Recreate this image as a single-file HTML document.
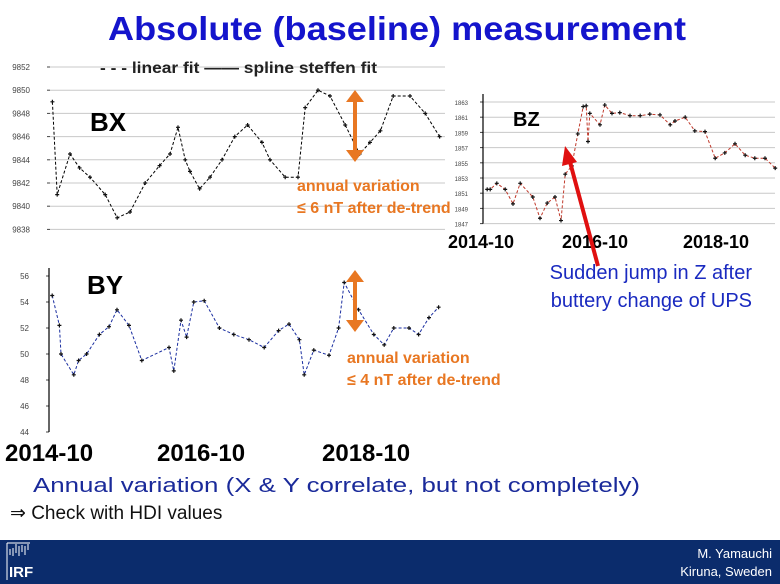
<!DOCTYPE html>
<html><head><meta charset="utf-8"><style>
html,body{margin:0;padding:0;background:#fff;}
svg{display:block;font-family:"Liberation Sans",sans-serif;}
</style></head><body>
<svg id="s" width="780" height="584" viewBox="0 0 780 584">
<text x="397" y="40" text-anchor="middle" font-size="33" font-weight="bold" fill="#1414cc" textLength="578" lengthAdjust="spacingAndGlyphs">Absolute (baseline) measurement</text>
<g id="bx"></g>
<g id="bz"></g>
<g id="by"></g>
<text x="100" y="73" font-size="16" font-weight="bold" fill="#222" textLength="277" lengthAdjust="spacingAndGlyphs">- - -  linear fit —— spline steffen fit</text>
<text x="90" y="131" font-size="26" font-weight="bold" fill="#000">BX</text>
<text x="513" y="126" font-size="20" font-weight="bold" fill="#000">BZ</text>
<text x="87" y="294" font-size="26" font-weight="bold" fill="#000">BY</text>
<g fill="#e87722" stroke="#e87722">
<line x1="355" y1="100" x2="355" y2="152" stroke-width="4"/>
<polygon points="346,102 364,102 355,90" stroke="none"/><polygon points="346,150 364,150 355,162" stroke="none"/></g>
<g fill="#e87722" stroke="#e87722">
<line x1="355" y1="280" x2="355" y2="322" stroke-width="4"/>
<polygon points="346,282 364,282 355,270" stroke="none"/><polygon points="346,320 364,320 355,332" stroke="none"/></g>
<g font-size="16" font-weight="bold" fill="#e87722">
<text x="297" y="191">annual variation</text>
<text x="297" y="213">≤ 6 nT after de-trend</text></g>
<g font-size="16" font-weight="bold" fill="#e87722">
<text x="347" y="363">annual variation</text>
<text x="347" y="385">≤ 4 nT after de-trend</text></g>
<g font-size="20" fill="#1a2ac0" text-anchor="end">
<text x="752" y="279">Sudden jump in Z after</text>
<text x="752" y="307">buttery change of UPS</text></g>
<g><line x1="598" y1="266" x2="570" y2="162" stroke="#e01010" stroke-width="4"/><polygon points="565,146 562,166 577,162" fill="#e01010"/></g>
<text x="33" y="492" font-size="20" fill="#1a2a9a" textLength="607" lengthAdjust="spacingAndGlyphs">Annual variation (X &amp; Y correlate, but not completely)</text>
<text x="10" y="519" font-size="19" fill="#111">⇒ Check with HDI values</text>
<rect x="0" y="540" width="780" height="44" fill="#0b2c6c"/>
<g stroke="#fff" stroke-width="1"><line x1="7" y1="543" x2="7" y2="580"/><path d="M10,555 v-6 M13,556 v-8 M16,553 v-9 M19,556 v-10 M22,552 v-7 M25,555 v-9 M28,550 v-6" /><line x1="7" y1="543" x2="30" y2="543"/></g>
<text x="9" y="577" font-size="15" font-weight="bold" fill="#fff">IRF</text>
<text x="772" y="558" font-size="13" fill="#fff" text-anchor="end">M. Yamauchi</text>
<text x="772" y="576" font-size="13" fill="#fff" text-anchor="end">Kiruna, Sweden</text>
</svg>
<script>
// BX data
const bxYears=[2014.78,2014.84,2015.0,2015.12,2015.25,2015.44,2015.59,2015.75,2015.94,2016.12,2016.25,2016.35,2016.44,2016.5,2016.62,2016.75,2016.9,2017.06,2017.22,2017.4,2017.5,2017.69,2017.85,2017.94,2018.1,2018.25,2018.44,2018.62,2018.75,2018.88,2019.04,2019.25,2019.44,2019.62];
const bxValues=[9849,9841,9844.5,9843.3,9842.5,9841,9839,9839.5,9842,9843.5,9844.5,9846.8,9844,9843,9841.5,9842.5,9844,9846,9847,9845.5,9844,9842.5,9842.5,9848.5,9850,9849.5,9847,9844.5,9845.5,9846.5,9849.5,9849.5,9848,9846];
const bxTicks=[9852,9850,9848,9846,9844,9842,9840,9838];
// BY data
const byYears=[2014.79,2014.88,2014.9,2015.06,2015.12,2015.22,2015.38,2015.5,2015.6,2015.75,2015.91,2016.25,2016.31,2016.4,2016.47,2016.56,2016.69,2016.88,2017.06,2017.25,2017.44,2017.62,2017.75,2017.88,2017.94,2018.06,2018.25,2018.37,2018.44,2018.62,2018.81,2018.94,2019.06,2019.25,2019.37,2019.5,2019.62];
const byValues=[54.5,52.2,50,48.4,49.5,50,51.5,52.1,53.4,52.2,49.5,50.5,48.7,52.6,51.3,54,54.1,52,51.5,51.1,50.5,51.8,52.3,51.1,48.4,50.3,49.9,52,55.5,53.4,51.5,50.7,52,52,51.5,52.8,53.6];
const byTicks=[56,54,52,50,48,46,44];
// BZ data
const bzYears=[2014.82,2014.87,2014.98,2015.12,2015.25,2015.37,2015.58,2015.7,2015.82,2015.95,2016.05,2016.12,2016.23,2016.33,2016.42,2016.47,2016.5,2016.53,2016.7,2016.78,2016.9,2017.03,2017.2,2017.37,2017.53,2017.7,2017.87,2017.95,2018.12,2018.28,2018.45,2018.62,2018.78,2018.95,2019.12,2019.28,2019.45,2019.62];
const bzValues=[851.5,851.5,852.3,851.5,849.6,852.3,850.5,847.7,849.7,850.5,847.4,853.5,854.6,858.8,862.4,862.5,857.8,861.5,860,862.6,861.5,861.6,861.2,861.2,861.4,861.3,860,860.5,861,859.2,859.1,855.6,856.3,857.5,856,855.6,855.6,854.3];
const bzTicks=[863,861,859,857,855,853,851,849,847];
const xLabels=['2014-10','2016-10','2018-10'];

const NS='http://www.w3.org/2000/svg';
function mk(p,tag,a){const e=document.createElementNS(NS,tag);for(const k in a)e.setAttribute(k,a[k]);p.appendChild(e);return e;}
function chart(g,years,vals,ticks,cfg){
  const xs=y=>cfg.x0+(y-2014.75)*cfg.pxYear;
  const ys=v=>cfg.yTop+(ticks[0]-v)*cfg.pxUnit;
  ticks.forEach(t=>{
    const gl=mk(g,'line',{x1:cfg.x0,x2:cfg.x1,y1:ys(t),y2:ys(t),stroke:cfg.grid?'#c8c8c8':'none','stroke-width':1});
    
    
    const tk=mk(g,'line',{x1:cfg.x0-3,x2:cfg.x0,y1:ys(t),y2:ys(t),stroke:'#444'});
    
    
    const tl=mk(g,'text',{x:cfg.x0-cfg.lblOff,y:ys(t)+3,'font-size':cfg.fs,fill:'#444','text-anchor':'end'});
    tl.textContent=cfg.prefix+t;
    
    
  });
  if(cfg.axis){const ax=mk(g,'line',{x1:cfg.x0,x2:cfg.x0,y1:cfg.yTop-8,y2:ys(ticks[ticks.length-1]),stroke:'#000','stroke-width':1.2});
    
    }
  const pts=years.map((y,i)=>xs(y).toFixed(1)+','+ys(vals[i]).toFixed(1)).join(' ');
  const dl=mk(g,'polyline',{points:pts,fill:'none',stroke:cfg.color,'stroke-width':1,'stroke-dasharray':'3,2'});
  
  
  years.forEach((y,i)=>{
    const m=mk(g,'path',{d:`M${xs(y)-2},${ys(vals[i])}h4M${xs(y)},${ys(vals[i])-2}v4`,stroke:'#111','stroke-width':1.2});
    
    
  });
  if(cfg.xl){xLabels.forEach((l,i)=>{
    const t=mk(g,'text',{x:cfg.xl[i],y:cfg.xly,'font-size':cfg.xfs,'font-weight':'bold',fill:'#000'});
    t.textContent=l;
    
    
  });}
}
chart(document.getElementById('bx'),bxYears,bxValues,bxTicks,{x0:50,x1:445,pxYear:80,yTop:67,pxUnit:11.6,grid:true,fs:8,lblOff:20,prefix:'',color:'#000'});
chart(document.getElementById('by'),byYears,byValues,byTicks,{x0:49,x1:49,pxYear:80,yTop:276,pxUnit:13,grid:false,fs:8,lblOff:20,prefix:'',color:'#1a2ea0',axis:true,xl:[5,157,322],xly:461,xfs:24});
chart(document.getElementById('bz'),bzYears,bzValues,bzTicks,{x0:483,x1:775,pxYear:60,yTop:102,pxUnit:7.6,grid:true,fs:6,lblOff:15,prefix:'1',color:'#c0392b',axis:true,xl:[448,562,683],xly:248,xfs:18});
</script>
</body></html>
